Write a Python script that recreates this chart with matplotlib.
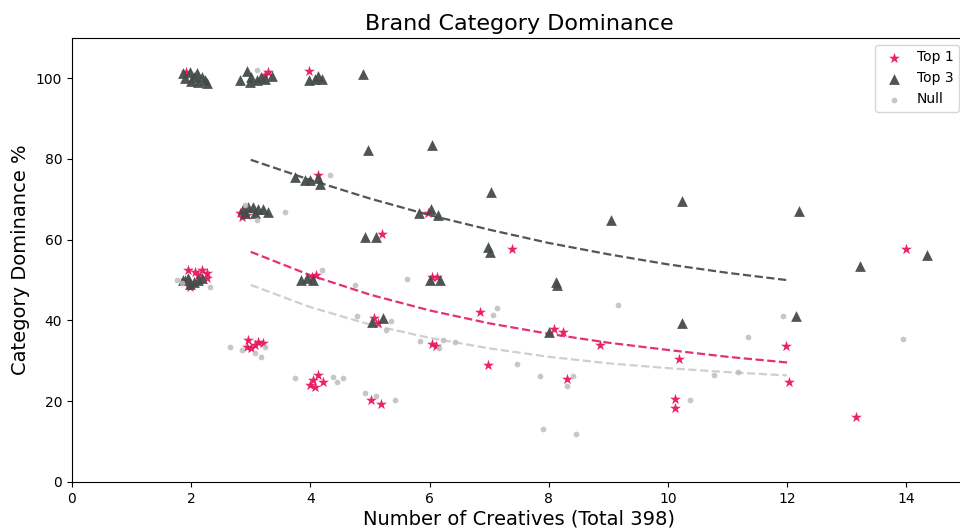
#!/usr/bin/env python3

'''
Scatter of brand category dominance against number of creatives, split by
whether the brand was the top 1, in the top 3, or had no ranking at all.
'''

import matplotlib
matplotlib.use('Agg')
import matplotlib.pyplot as plt


# Top 1 brands
top1_x = [1.92, 3.29, 3.24, 3.97,
          1.95, 2.06, 2.18, 2.26, 1.98, 1.90, 2.26, 2.12,
          2.82, 2.85, 2.93, 4.13, 4.02, 4.10, 5.21, 5.98, 6.05, 6.13, 7.39,
          2.96, 3.13, 3.21, 2.93, 3.01, 3.07,
          4.13, 4.05, 4.00, 4.22, 4.08,
          5.07, 5.14, 5.01, 5.18, 6.05, 6.11, 6.85, 6.99, 8.09, 8.24, 8.31,
          8.86, 10.19, 10.12, 10.12, 11.98, 12.03, 13.16, 14.00]
top1_y = [101.5, 101.6, 100.7, 101.8,
          52.5, 52.0, 52.5, 51.7, 48.3, 50.0, 50.4, 51.2,
          66.5, 65.7, 66.0, 76.0, 50.8, 51.2, 61.4, 66.5, 50.8, 50.8, 57.7,
          35.1, 34.7, 34.3, 33.5, 33.1, 33.9,
          26.5, 25.2, 24.0, 24.8, 23.6,
          40.5, 39.3, 20.3, 19.3, 34.1, 33.7, 42.2, 28.9, 37.9, 37.2, 25.4,
          33.9, 30.4, 20.6, 18.4, 33.7, 24.8, 16.0, 57.7]

# Top 3 brands
top3_x = [1.86, 1.98, 2.09, 2.18, 2.23, 1.90, 2.00, 2.11, 2.26, 2.04,
          2.82, 2.93, 3.01, 3.10, 3.18, 2.99, 3.35, 3.24,
          3.97, 4.08, 4.19, 4.13, 4.89,
          1.87, 1.95, 2.04, 2.12, 2.18, 1.98,
          2.87, 2.96, 3.04, 3.13, 3.21, 3.29, 2.90, 3.07,
          3.74, 3.91, 3.99, 4.13, 4.16,
          3.85, 3.94, 4.05,
          4.97, 6.05, 7.04, 5.83, 6.02, 6.15, 4.92, 5.11, 6.99, 7.01,
          6.00, 6.18, 8.13, 8.14, 5.03, 5.22, 8.01,
          9.05, 10.23, 10.24, 12.20, 12.15, 13.23, 14.35]
top3_y = [101.2, 101.6, 101.2, 100.3, 99.5, 100.0, 99.3, 99.0, 98.7, 100.4,
          99.5, 101.8, 100.3, 99.5, 100.3, 99.1, 100.6, 99.8,
          99.5, 99.9, 99.9, 100.6, 101.0,
          50.0, 50.4, 49.6, 50.0, 50.4, 49.0,
          67.7, 68.1, 68.1, 67.7, 67.7, 66.9, 66.5, 66.5,
          75.6, 74.8, 74.8, 75.2, 73.9,
          50.0, 50.4, 50.0,
          82.2, 83.4, 71.9, 66.5, 67.7, 66.1, 60.7, 60.6, 58.2, 57.0,
          50.0, 50.0, 49.6, 48.8, 39.7, 40.5, 37.2,
          64.9, 69.6, 39.4, 67.2, 41.1, 53.6, 56.1]

# Brands with no category ranking
null_x = [3.10, 1.76, 2.32, 1.84, 3.57, 2.90, 3.10,
          2.65, 2.85, 3.07, 3.18, 3.24,
          3.74, 4.38, 4.44, 4.55, 4.33, 4.19, 4.75, 5.63,
          7.14, 7.06, 4.79, 5.36, 5.27, 5.84, 6.23, 6.43, 6.16,
          7.47, 7.85, 8.40, 8.31, 4.92, 5.10, 5.42, 7.90, 8.46,
          9.17, 11.35, 10.78, 11.18, 10.38, 11.93, 13.94, 14.95]
null_y = [102.0, 50.0, 48.3, 49.2, 66.9, 68.6, 64.9,
          33.5, 32.7, 31.9, 31.0, 33.5,
          25.7, 26.1, 24.8, 25.7, 76.0, 52.5, 48.8, 50.2,
          43.1, 41.3, 41.1, 39.8, 37.6, 34.9, 35.1, 34.6, 33.1,
          29.3, 26.2, 26.2, 23.8, 22.1, 21.3, 20.3, 13.0, 11.9,
          43.8, 36.0, 26.5, 27.2, 20.3, 41.2, 35.3, 27.0]

# Trend lines over 3 to 12 creatives
trend_x = [3, 4, 5, 6, 7, 8, 9, 10, 11, 12]
trend_top3 = [79.8, 74.8, 70.2, 66.1, 62.5, 59.2, 56.4, 53.9, 51.8, 50.0]
trend_top1 = [57.0, 51.2, 46.4, 42.5, 39.3, 36.7, 34.5, 32.7, 31.0, 29.6]
trend_null = [48.8, 43.3, 39.0, 35.7, 33.1, 31.0, 29.4, 28.2, 27.2, 26.4]

PINK = '#e8175d'
DARK = '#454b4b'
LIGHT = '#bdbdbd'


def plot_dominance():
    '''Draw the three groups and their trend lines, then save to out.png.'''
    fig = plt.figure(figsize=(9.6, 5.3), dpi=100)
    # axes run slightly past the right edge of the figure
    ax = fig.add_axes([0.075, 0.0906, 0.931, 0.838])

    ax.scatter(top1_x, top1_y, marker='*', s=68, color=PINK,
               linewidths=0, alpha=0.95, label='Top 1', zorder=3)
    ax.scatter(top3_x, top3_y, marker='^', s=60, color=DARK,
               linewidths=0, alpha=0.95, label='Top 3', zorder=4)
    ax.scatter(null_x, null_y, marker='o', s=17, color=LIGHT,
               linewidths=0, alpha=0.85, label='Null', zorder=5)

    ax.plot(trend_x, trend_top3, '--', color='#555555', lw=1.6, zorder=2)
    ax.plot(trend_x, trend_top1, '--', color='#e3307a', lw=1.6, zorder=2)
    ax.plot(trend_x, trend_null, '--', color='#cfcfcf', lw=1.6, zorder=2)

    ax.set_xlim(0, 15)
    ax.set_ylim(0, 110)
    ax.set_xticks(range(0, 15, 2))
    ax.set_yticks(range(0, 101, 20))
    ax.tick_params(labelsize=10)

    ax.set_title('Brand Category Dominance', fontsize=16)
    ax.set_xlabel('Number of Creatives (Total 398)', fontsize=14, labelpad=3)
    ax.set_ylabel('Category Dominance %', fontsize=14)

    ax.legend(loc='upper right', fontsize=10, handletextpad=0.6)

    fig.savefig('out.png', dpi=100)


plot_dominance()
